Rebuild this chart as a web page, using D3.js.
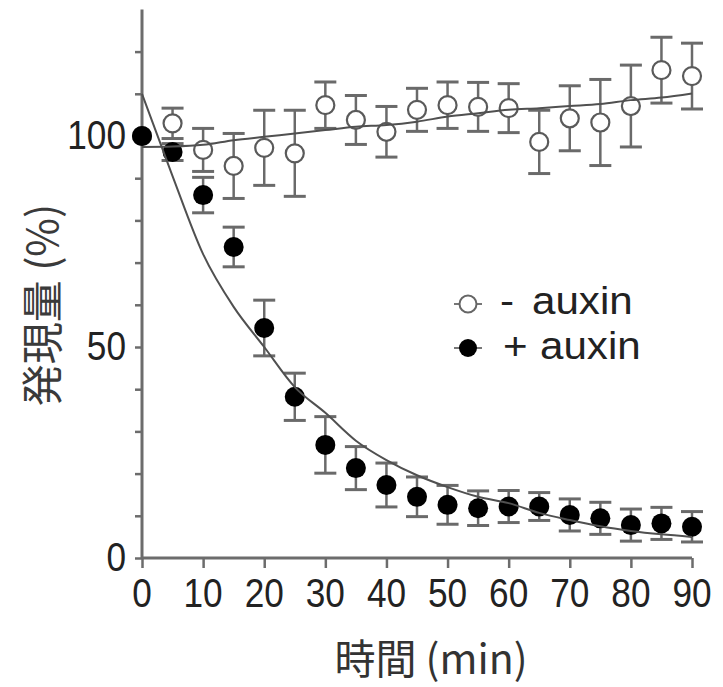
<!DOCTYPE html>
<html>
<head>
<meta charset="utf-8">
<script src="https://cdn.jsdelivr.net/npm/d3@7"></script>
<style>
  html, body { margin: 0; padding: 0; background: #fff; }
  svg { display: block; }
</style>
</head>
<body>
<svg id="chart" width="723" height="687"></svg>
<script>
// ---- data ----
const times = [0, 5, 10, 15, 20, 25, 30, 35, 40, 45, 50, 55, 60, 65, 70, 75, 80, 85, 90];
const minusMean = [100, 103, 96.7, 92.9, 97.2, 95.9, 107.3, 103.8, 101, 106.2, 107.3, 106.9, 106.6, 98.6, 104.2, 103.2, 107.1, 115.6, 114.2];
const minusErr  = [0, 3.6, 5.1, 7.7, 8.9, 10.2, 5.5, 5.8, 6, 5.1, 5.5, 5.8, 5.8, 7.5, 7.7, 10.2, 9.7, 7.8, 7.8];
const plusMean  = [100, 96.2, 86, 73.7, 54.5, 38.2, 26.8, 21.3, 17.3, 14.5, 12.6, 11.8, 12.2, 12.2, 10.2, 9.4, 7.8, 8.2, 7.4];
const plusErr   = [0, 2, 4.2, 4.7, 6.6, 5.6, 6.7, 5.1, 5.2, 4.7, 4.6, 4.1, 3.8, 3.3, 3.8, 3.8, 3.8, 3.8, 3.6];
const minusFit  = [97.4, 97.5, 97.9, 99, 99.8, 100.6, 101.4, 102.2, 102.6, 103.4, 104.6, 105.4, 106.2, 106.6, 107.1, 107.6, 108.5, 109.1, 110.1];
const plusFit   = [110, 90.5, 72, 59.5, 50, 40.5, 34.4, 27.8, 23.2, 19.6, 16.8, 14.5, 13, 10.7, 9, 7.5, 6.4, 5.6, 5];
const xTicks = [0, 10, 20, 30, 40, 50, 60, 70, 80, 90];
const yTicks = [0, 10, 20, 30, 40, 50, 60, 70, 80, 90, 100, 110, 120];
const yLabels = [0, 50, 100];
const legendSigns = ["-", "+"];
const legendNames = ["auxin", "auxin"];
const xTitle = "時間 (min)";
const yTitle = "発現量 (%)";

// ---- layout ----
const svg = d3.select("#chart");
const x = d3.scaleLinear().domain([0, 90]).range([142, 692]);
const y = d3.scaleLinear().domain([0, 130]).range([558, 9.4]);
const axisColor = "#6c6c6c";
const barColor = "#6a6a6a";
const lineColor = "#505050";
const numFont = "Liberation Sans, Arial, sans-serif";
const cjkFont = "'Noto Sans CJK JP', 'Noto Sans CJK SC', sans-serif";

// axes
const xAxis = svg.append("g").attr("transform", `translate(0,${y(0)})`)
  .call(d3.axisBottom(x).tickValues(xTicks).tickSize(10).tickFormat(""));
const yAxis = svg.append("g").attr("transform", `translate(${x(0)},0)`)
  .call(d3.axisLeft(y).tickValues(yTicks).tickSize(7).tickFormat(""));
[xAxis, yAxis].forEach(a => {
  a.select(".domain").attr("stroke", axisColor).attr("stroke-width", 3);
  a.selectAll(".tick line").attr("stroke", axisColor).attr("stroke-width", 2.5);
});
xAxis.select(".domain").attr("d", `M${x(0)},0H${x(90)}`);
yAxis.select(".domain").attr("d", `M0,${y(130)}V${y(0)}`);

// tick labels (condensed digits)
const sx = 0.88;
svg.append("g").selectAll("text").data(xTicks).join("text")
  .attr("transform", d => `translate(${x(d)},${607}) scale(${sx},1)`)
  .attr("text-anchor", "middle")
  .attr("font-family", numFont).attr("font-size", 40).attr("fill", "#222")
  .text(d => d);
svg.append("g").selectAll("text").data(yLabels).join("text")
  .attr("transform", d => `translate(${126},${y(d) + 13}) scale(${sx},1)`)
  .attr("text-anchor", "end")
  .attr("font-family", numFont).attr("font-size", 40).attr("fill", "#222")
  .text(d => d);

// axis titles
svg.append("text")
  .attr("x", 431).attr("y", 674)
  .attr("text-anchor", "middle")
  .attr("font-family", cjkFont).attr("font-size", 41).attr("fill", "#333")
  .text(xTitle);
svg.append("text")
  .attr("transform", `translate(58,305) rotate(-90)`)
  .attr("text-anchor", "middle")
  .attr("font-family", cjkFont).attr("font-size", 42).attr("fill", "#3a3a3a")
  .text(yTitle);

// error bars helper
function errorBars(g, means, errs, capW) {
  const rows = times.map((t, i) => ({ t, m: means[i], e: errs[i] })).filter(d => d.e > 0);
  g.selectAll("line.v").data(rows).join("line").attr("class", "v")
    .attr("x1", d => x(d.t)).attr("x2", d => x(d.t))
    .attr("y1", d => y(d.m + d.e)).attr("y2", d => y(d.m - d.e))
    .attr("stroke", barColor).attr("stroke-width", 2.5);
  ["top", "bot"].forEach(k => {
    g.selectAll("line." + k).data(rows).join("line").attr("class", k)
      .attr("x1", d => x(d.t) - capW / 2).attr("x2", d => x(d.t) + capW / 2)
      .attr("y1", d => y(k === "top" ? d.m + d.e : d.m - d.e))
      .attr("y2", d => y(k === "top" ? d.m + d.e : d.m - d.e))
      .attr("stroke", barColor).attr("stroke-width", 3);
  });
}

// minus auxin (open)
const gMinus = svg.append("g");
errorBars(gMinus, minusMean, minusErr, 22);
gMinus.selectAll("circle").data(times.map((t, i) => ({ t, m: minusMean[i] }))).join("circle")
  .attr("cx", d => x(d.t)).attr("cy", d => y(d.m)).attr("r", 9)
  .attr("fill", "#fff").attr("stroke", "#5a5a5a").attr("stroke-width", 2.2);

// plus auxin (filled)
const gPlus = svg.append("g");
errorBars(gPlus, plusMean, plusErr, 22);
gPlus.selectAll("circle").data(times.map((t, i) => ({ t, m: plusMean[i] }))).join("circle")
  .attr("cx", d => x(d.t)).attr("cy", d => y(d.m)).attr("r", 10)
  .attr("fill", "#000");

// fit lines
const line = d3.line().x(d => x(d.t)).y(d => y(d.v)).curve(d3.curveMonotoneX);
[minusFit, plusFit].forEach(arr => {
  svg.append("path")
    .datum(times.map((t, i) => ({ t, v: arr[i] })))
    .attr("d", line)
    .attr("fill", "none").attr("stroke", lineColor).attr("stroke-width", 2);
});

// legend
const leg = svg.append("g");
const legRows = [
  { cy: 304, base: 314, symX: 500, txtX: 532, open: true },
  { cy: 348, base: 359, symX: 503, txtX: 540, open: false }
];
const legFs = 39, legSx = 1.08;
legRows.forEach((r, i) => {
  leg.append("line").attr("x1", 454).attr("x2", 482).attr("y1", r.cy).attr("y2", r.cy)
    .attr("stroke", "#777").attr("stroke-width", 2);
  leg.append("circle").attr("cx", 468).attr("cy", r.cy).attr("r", r.open ? 8.5 : 9)
    .attr("fill", r.open ? "#fff" : "#000")
    .attr("stroke", r.open ? "#666" : "none").attr("stroke-width", 2);
  leg.append("text").attr("transform", `translate(${r.symX},${r.base}) scale(${legSx},1)`)
    .attr("font-family", numFont).attr("font-size", legFs).attr("fill", "#222")
    .text(legendSigns[i]);
  leg.append("text").attr("transform", `translate(${r.txtX},${r.base}) scale(${legSx},1)`)
    .attr("font-family", numFont).attr("font-size", legFs).attr("fill", "#222")
    .text(legendNames[i]);
});
</script>
</body>
</html>
